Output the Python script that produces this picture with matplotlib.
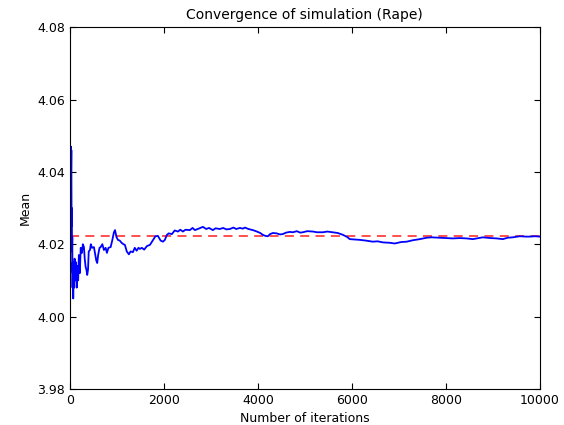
import numpy as np
import matplotlib
matplotlib.use("Agg")
from matplotlib import pyplot as plt

# running mean values
iterations = [1, 3, 6, 10, 15, 20, 25, 30, 35, 40, 45, 50, 55, 60, 70, 80, 90, 100,
              115, 130, 145, 160, 175, 190, 210, 230, 255, 275, 298, 315, 334, 350,
              368, 385, 400, 426, 445, 470, 511, 540, 560, 581, 600, 630, 653, 690,
              723, 760, 787, 820, 866, 900, 936, 960, 990, 1021, 1060, 1106, 1140,
              1170, 1210, 1255, 1290, 1340, 1380, 1420, 1460, 1489, 1530, 1580, 1640,
              1702, 1760, 1820, 1872, 1930, 1980, 2021, 2060, 2100, 2170, 2230, 2298,
              2350, 2404, 2460, 2553, 2610, 2660, 2740, 2830, 2900, 2960, 3043, 3100,
              3191, 3260, 3330, 3404, 3480, 3540, 3617, 3680, 3723, 3800, 3894, 3979,
              4050, 4106, 4160, 4213, 4260, 4319, 4400, 4470, 4532, 4600, 4680, 4745,
              4830, 4900, 4957, 5050, 5170, 5260, 5383, 5480, 5596, 5700, 5809, 5900,
              5957, 6060, 6170, 6300, 6447, 6550, 6660, 6800, 6915, 7050, 7170, 7300,
              7447, 7596, 7700, 7872, 8000, 8149, 8300, 8447, 8574, 8700, 8787, 8950,
              9085, 9213, 9320, 9426, 9574, 9700, 9787, 9900, 10000]
means = [3.996, 4.025, 4.012, 4.038, 4.030, 4.047, 4.040, 4.046, 4.025, 4.030, 4.018,
         4.022, 4.008, 4.015, 4.005, 4.013, 4.008, 4.016, 4.010, 4.015, 4.008, 4.014,
         4.010, 4.017, 4.012, 4.019, 4.0176, 4.020, 4.0192, 4.016, 4.0137, 4.013,
         4.0115, 4.013, 4.018, 4.0184, 4.020, 4.019, 4.0192, 4.017, 4.0155, 4.0148,
         4.017, 4.019, 4.0192, 4.020, 4.0184, 4.019, 4.0176, 4.019, 4.0192, 4.021,
         4.0233, 4.0239, 4.022, 4.0212, 4.021, 4.0203, 4.0200, 4.0198, 4.018, 4.0172,
         4.0180, 4.0178, 4.019, 4.0182, 4.0190, 4.0187, 4.019, 4.0185, 4.0195, 4.0198,
         4.021, 4.0222, 4.0223, 4.021, 4.0207, 4.0212, 4.0225, 4.023, 4.0228, 4.0238,
         4.0235, 4.024, 4.0235, 4.0240, 4.0239, 4.0245, 4.0239, 4.0243, 4.0248, 4.0242,
         4.0245, 4.0239, 4.0244, 4.0242, 4.0245, 4.0241, 4.0242, 4.0246, 4.0242,
         4.0245, 4.0243, 4.0246, 4.0242, 4.0239, 4.0235, 4.0231, 4.0226, 4.0223,
         4.0222, 4.0228, 4.0231, 4.0230, 4.0227, 4.0228, 4.0232, 4.0234, 4.0233,
         4.0236, 4.0232, 4.0233, 4.0236, 4.0235, 4.0233, 4.0233, 4.0235, 4.0233,
         4.0231, 4.0226, 4.0220, 4.0214, 4.0213, 4.0212, 4.0210, 4.0207, 4.0208,
         4.0205, 4.0204, 4.0202, 4.0206, 4.0207, 4.0211, 4.0214, 4.0218, 4.0219,
         4.0218, 4.0217, 4.0216, 4.0217, 4.0216, 4.0214, 4.0217, 4.0219, 4.0217,
         4.0216, 4.0214, 4.0218, 4.0219, 4.0222, 4.0221, 4.0221, 4.0222, 4.0221]
true_mean = 4.0222
n_total = 10000

fig = plt.figure(figsize=(5.64, 4.25), dpi=100)
ax = fig.add_axes([0.124, 0.085, 0.833, 0.851])

ax.plot([0, n_total], [true_mean, true_mean], color='r', ls='--', dashes=(5, 3.5),
        lw=1.3, alpha=0.75)
ax.plot(iterations, means, color='b', lw=1.3)

ax.set_xlim(0, 10000)
ax.set_ylim(3.98, 4.08)
ax.set_xticks(np.arange(0, 10001, 2000))
ax.set_yticks([3.98, 4.00, 4.02, 4.04, 4.06, 4.08])
ax.tick_params(direction='in', top=True, right=True, labelsize=9, length=4)
ax.set_xlabel('Number of iterations', fontsize=9)
ax.set_ylabel('Mean', fontsize=9)
ax.set_title('Convergence of simulation (Rape)', fontsize=10)

fig.savefig('out.png', dpi=100, facecolor='white')
